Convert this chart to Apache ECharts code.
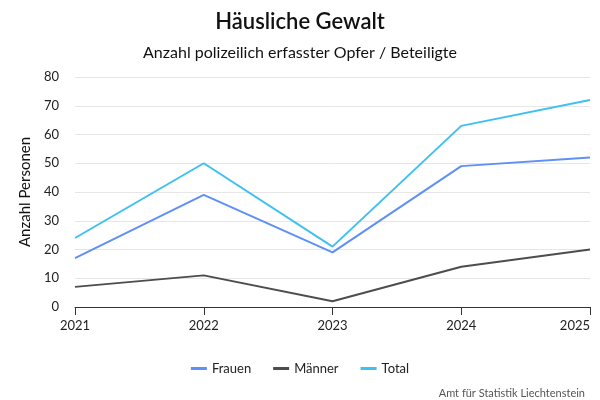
<!DOCTYPE html>
<html><head><meta charset="utf-8">
<script src="https://cdn.jsdelivr.net/npm/echarts@6/dist/echarts.min.js"></script>
<style>html,body{margin:0;padding:0;background:#fff}#c{width:600px;height:400px}</style>
</head><body><div id="c"></div>
<script>
const years = ['2021','2022','2023','2024','2025'];
const frauen = [17, 39, 19, 49, 52];
const maenner = [7, 11, 2, 14, 20];
const total = [24, 50, 21, 63, 72];
const FONT = 'Lato, "Noto Sans", sans-serif';
const chart = echarts.init(document.getElementById('c'));
chart.setOption({
  backgroundColor: '#fff',
  textStyle: { fontFamily: FONT },
  title: [
    { text: 'Häusliche Gewalt', left: 'center', top: 6, textStyle: { fontFamily: FONT, fontSize: 22, fontWeight: 600, color: '#111' } },
    { text: 'Anzahl polizeilich erfasster Opfer / Beteiligte', left: 'center', top: 40, textStyle: { fontFamily: FONT, fontSize: 16, fontWeight: 'normal', color: '#111' } },
    { text: 'Amt für Statistik Liechtenstein', right: 10, top: 383, textStyle: { fontFamily: FONT, fontSize: 11, fontWeight: 'normal', color: '#555' } }
  ],
  legend: {
    bottom: 20, left: 'center', itemWidth: 16, itemHeight: 3, itemGap: 22,
    icon: 'rect',
    textStyle: { fontFamily: FONT, fontSize: 13, color: '#222' },
    data: ['Frauen', 'Männer', 'Total']
  },
  grid: { left: 75, right: 10, top: 77, bottom: 93, outerBoundsMode: 'none' },
  xAxis: {
    type: 'category', data: years, boundaryGap: false,
    axisLine: { lineStyle: { color: '#333', width: 1 } },
    axisTick: { alignWithLabel: true, length: 8, lineStyle: { color: '#333' } },
    axisLabel: { fontFamily: FONT, fontSize: 13, color: '#222', margin: 12, alignMaxLabel: 'right' },
    splitLine: { show: false }
  },
  yAxis: {
    type: 'value', min: 0, max: 80, interval: 10,
    name: 'Anzahl Personen', nameLocation: 'middle', nameGap: 42,
    nameTextStyle: { fontFamily: FONT, fontSize: 15, color: '#111' },
    axisLine: { show: false }, axisTick: { show: false },
    axisLabel: { fontFamily: FONT, fontSize: 13, color: '#222', margin: 16 },
    splitLine: { lineStyle: { color: '#e6e6e6' } }
  },
  series: [
    { name: 'Frauen', type: 'line', data: frauen, symbol: 'none', lineStyle: { width: 2, color: '#5f8ff8' }, itemStyle: { color: '#5f8ff8' } },
    { name: 'Männer', type: 'line', data: maenner, symbol: 'none', lineStyle: { width: 2, color: '#4d4d4d' }, itemStyle: { color: '#4d4d4d' } },
    { name: 'Total', type: 'line', data: total, symbol: 'none', lineStyle: { width: 2, color: '#3fc0f2' }, itemStyle: { color: '#3fc0f2' } }
  ]
});
</script></body></html>
